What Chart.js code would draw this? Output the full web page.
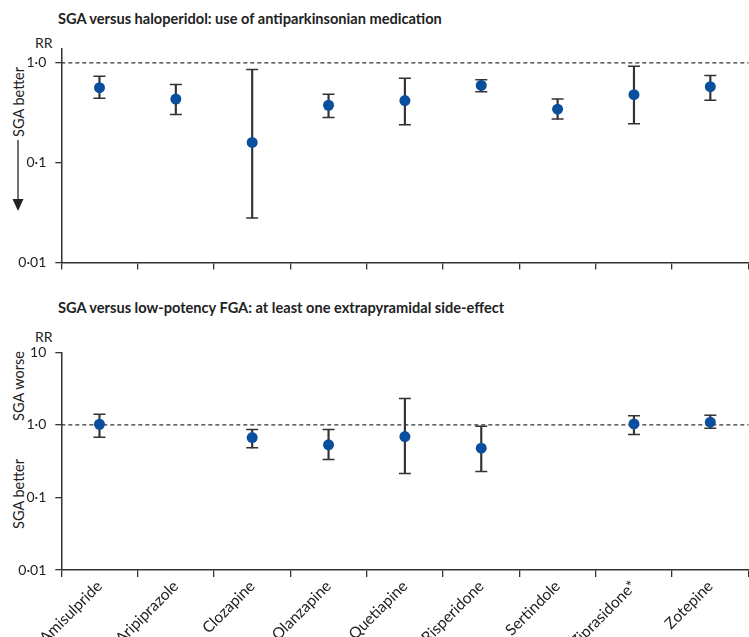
<!DOCTYPE html>
<html>
<head>
<meta charset="utf-8">
<script src="https://cdn.jsdelivr.net/npm/chart.js@4/dist/chart.umd.min.js"></script>
<style>
  html, body { margin: 0; padding: 0; background: #fff; overflow: hidden; }
  #wrap { position: relative; width: 749px; height: 637px; overflow: hidden; font-family: Lato, "Open Sans", sans-serif; color: #222; }
  #wrap canvas { position: absolute; left: 0; }
  .title { position: absolute; left: 58px; font-weight: bold; font-size: 14.6px; white-space: nowrap; }
  .rr { position: absolute; left: 35px; font-size: 14px; }
  .side { position: absolute; font-size: 14.5px; white-space: nowrap; transform: translate(-50%, -50%) rotate(-90deg); }
</style>
</head>
<body>
<div id="wrap">
  <div class="title" style="top:10px">SGA versus haloperidol: use of antiparkinsonian medication</div>
  <div class="rr" style="top:34px">RR</div>
  <div class="side" style="left:18px; top:102px">SGA better</div>
  <svg style="position:absolute;left:0;top:0" width="40" height="220">
    <line x1="18" y1="140" x2="18" y2="200" stroke="#222" stroke-width="1.3"/>
    <polygon points="12.5,199 23.5,199 18,211" fill="#222"/>
  </svg>
  <canvas id="topChart" width="756" height="280" style="top:0"></canvas>

  <div class="title" style="top:299px">SGA versus low-potency FGA: at least one extrapyramidal side-effect</div>
  <div class="rr" style="top:328px">RR</div>
  <div class="side" style="left:18px; top:386px">SGA worse</div>
  <div class="side" style="left:18px; top:494px">SGA better</div>
  <canvas id="bottomChart" width="756" height="347" style="top:290px"></canvas>
</div>

<script>
// Drugs on the x axis
const drugs = ['Amisulpride', 'Aripiprazole', 'Clozapine', 'Olanzapine', 'Quetiapine',
               'Risperidone', 'Sertindole', 'Ziprasidone*', 'Zotepine'];

// SGA versus haloperidol: use of antiparkinsonian medication
const topRR   = [0.565, 0.435, 0.160, 0.377, 0.420, 0.595, 0.344, 0.481, 0.578];
const topLow  = [0.442, 0.305, 0.028, 0.285, 0.240, 0.515, 0.275, 0.246, 0.423];
const topHigh = [0.736, 0.609, 0.858, 0.485, 0.703, 0.678, 0.435, 0.926, 0.748];

// SGA versus low-potency FGA: at least one extrapyramidal side-effect
const bottomRR   = [1.02, null, 0.669, 0.531, 0.690, 0.478, null, 1.03, 1.09];
const bottomLow  = [0.677, null, 0.483, 0.333, 0.214, 0.228, null, 0.736, 0.900];
const bottomHigh = [1.40, null, 0.862, 0.862, 2.30, 0.960, null, 1.34, 1.36];

// Y axis ticks
const topTicks = [0.01, 0.1, 1];
const topTickLabels = ['0·01', '0·1', '1·0'];
const bottomTicks = [0.01, 0.1, 1, 10];
const bottomTickLabels = ['0·01', '0·1', '1·0', '10'];

const BLUE = '#0a4f9e';
const INK = '#333';

// Dashed line at RR = 1
const refLinePlugin = {
    id: 'refLine',
    beforeDatasetsDraw(chart) {
        const area = chart.chartArea;
        const y = chart.scales.y.getPixelForValue(1);
        const ctx = chart.ctx;
        ctx.save();
        ctx.setLineDash([4, 3]);
        ctx.strokeStyle = INK;
        ctx.lineWidth = 1.2;
        ctx.beginPath();
        ctx.moveTo(area.left, y);
        ctx.lineTo(area.right, y);
        ctx.stroke();
        ctx.restore();
    }
};

function makeForest(canvasId, rr, low, high, ticks, tickLabels, yMax, opts) {
    const whiskers = low.map((l, i) => (l == null ? null : [l, high[i]]));

    return new Chart(document.getElementById(canvasId), {
        type: 'bar',
        data: {
            labels: drugs,
            datasets: [
                {
                    type: 'line',
                    data: rr,
                    showLine: false,
                    pointRadius: 5.5,
                    pointBackgroundColor: BLUE,
                    pointBorderWidth: 0,
                    order: 0
                },
                {
                    type: 'line',
                    data: high,
                    showLine: false,
                    pointStyle: 'line',
                    pointRadius: 6,
                    pointBorderColor: INK,
                    pointBorderWidth: 1.5,
                    order: 1
                },
                {
                    type: 'line',
                    data: low,
                    showLine: false,
                    pointStyle: 'line',
                    pointRadius: 6,
                    pointBorderColor: INK,
                    pointBorderWidth: 1.5,
                    order: 1
                },
                {
                    type: 'bar',
                    data: whiskers,
                    backgroundColor: INK,
                    barThickness: 1.5,
                    order: 2
                }
            ]
        },
        options: {
            responsive: false,
            animation: false,
            layout: { padding: { top: opts.padTop, right: 0, left: 0, bottom: 0 } },
            plugins: { legend: { display: false }, tooltip: { enabled: false } },
            scales: {
                x: {
                    type: 'category',
                    offset: true,
                    grid: { offset: true, drawOnChartArea: false, color: INK, lineWidth: 1.3, tickLength: 7 },
                    border: { color: INK, width: 1.5 },
                    ticks: {
                        display: opts.showLabels,
                        autoSkip: false,
                        minRotation: 45,
                        maxRotation: 45,
                        padding: 0,
                        color: '#222',
                        font: { family: 'Lato', size: 15.5 }
                    },
                    afterFit(scale) { scale.height = opts.xHeight; }
                },
                y: {
                    type: 'logarithmic',
                    min: 0.01,
                    max: yMax,
                    grid: { drawOnChartArea: false, color: INK, lineWidth: 1.3, tickLength: 6 },
                    border: { color: INK, width: 1.5 },
                    ticks: {
                        padding: 9,
                        color: '#222',
                        font: { family: 'Lato', size: 14 },
                        callback: function(value) {
                            const i = ticks.indexOf(value);
                            return i >= 0 ? tickLabels[i] : '';
                        }
                    },
                    afterBuildTicks(scale) { scale.ticks = ticks.map(v => ({ value: v })); },
                    afterFit(scale) { scale.width = 61.3; }
                }
            }
        },
        plugins: [refLinePlugin]
    });
}

makeForest('topChart', topRR, topLow, topHigh, topTicks, topTickLabels, 1.38,
    { padTop: 49, xHeight: 15, showLabels: false });
makeForest('bottomChart', bottomRR, bottomLow, bottomHigh, bottomTicks, bottomTickLabels, 10,
    { padTop: 62.3, xHeight: 67, showLabels: true });
</script>
</body>
</html>
